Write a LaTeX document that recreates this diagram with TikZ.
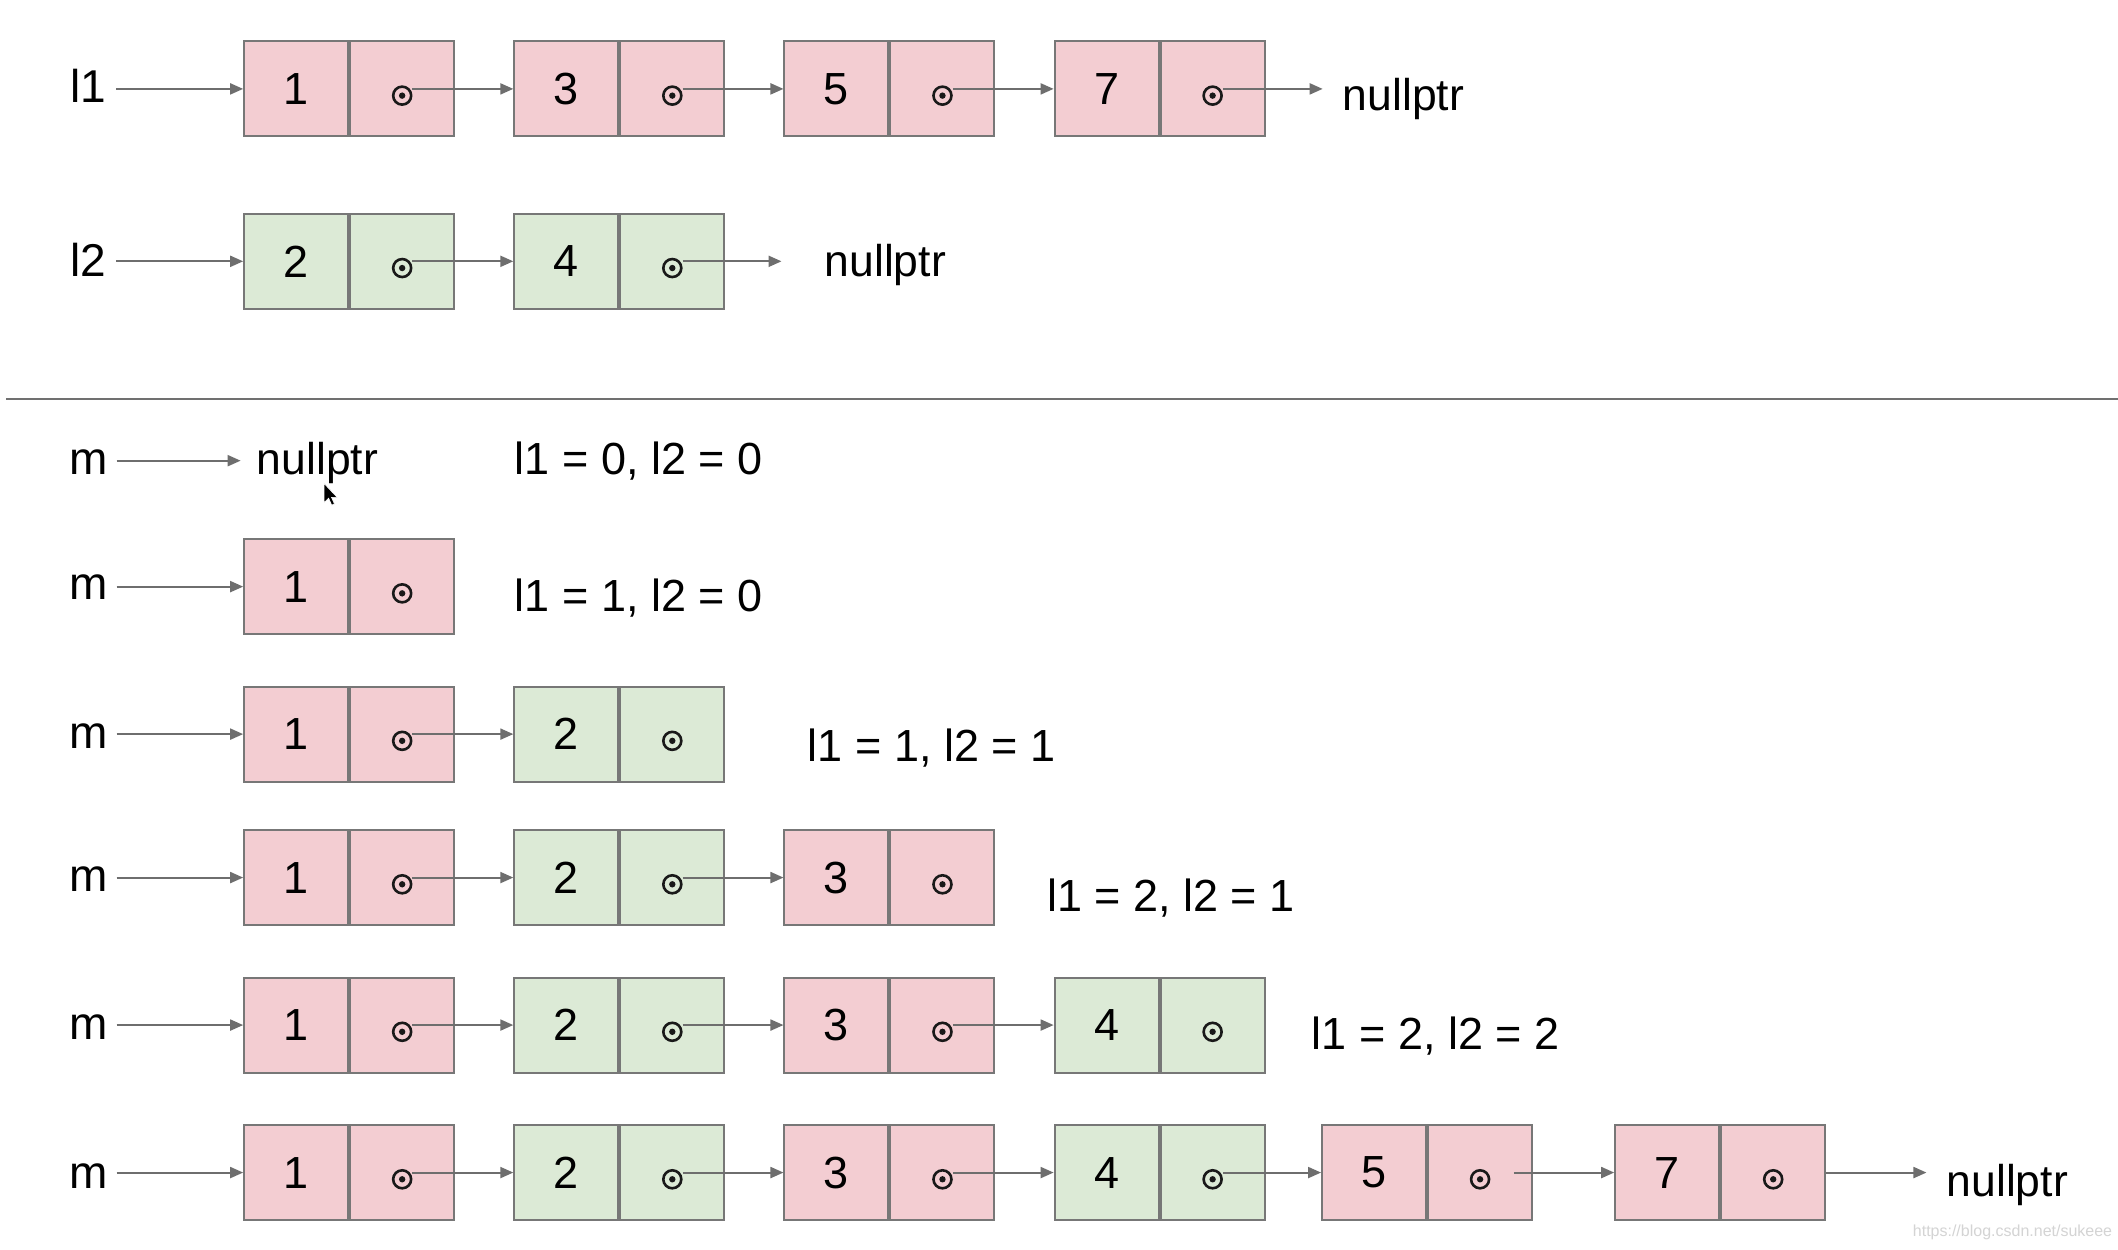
\documentclass[tikz,border=0pt]{standalone}
\usepackage{fontspec}
\setmainfont{Liberation Sans}
\usetikzlibrary{arrows.meta,calc}
\definecolor{pinkc}{HTML}{F3CDD2}
\definecolor{greenc}{HTML}{DCEAD6}
\definecolor{edgec}{HTML}{777777}
\definecolor{arrc}{HTML}{6E6E6E}
\definecolor{sepc}{HTML}{707070}
\definecolor{wmc}{HTML}{D4D4D4}
\tikzset{
  cellL/.style={draw=edgec, line width=2pt, minimum width=104pt, minimum height=95pt,
    inner sep=0pt, font=\fontsize{45pt}{54pt}\selectfont},
  cellR/.style={cellL, anchor=west},
  ptrdot/.style={circle, draw=black!90, line width=2.6pt, minimum size=18pt, inner sep=0pt,
    path picture={\fill[black!90] (path picture bounding box.center) circle (3.2pt);}},
  conn/.style={draw=arrc, line width=2pt, -{Triangle[length=13pt,width=11pt]}},
  lbl/.style={inner sep=0pt, anchor=base west, font=\fontsize{46pt}{55pt}\selectfont},
  info/.style={inner sep=0pt, anchor=base west, font=\fontsize{45pt}{54pt}\selectfont},
  nul/.style={inner sep=0pt, anchor=base west, font=\fontsize{44.5pt}{53pt}\selectfont},
  wmark/.style={inner sep=0pt, anchor=base west, text=wmc, font=\fontsize{16pt}{19pt}\selectfont},
}
% name, left x, centre y, colour, number
\newcommand\listcell[5]{%
  \node[cellL, fill=#4] (#1n) at (#2+39.25, #3) {#5};
  \node[cellR, fill=#4] (#1p) at (#1n.east) {};
  \node[ptrdot] (#1d) at ($(#1p.center)+(0,5)$) {};
}
\newcommand\linkto[2]{\draw[conn] (#1d.east |- #2n.west) -- (#2n.west);}
\begin{document}
\begin{tikzpicture}[x=1.35077pt, y=-1.34698pt]
\fill[white] (0,0) rectangle (1568,928);
\useasboundingbox (0,0) rectangle (1568,928);

% ---------- l1 ----------
\node[lbl] (L1) at (52,76.2) {l1};
\listcell{A1}{180}{66}{pinkc}{1}
\listcell{A2}{380}{66}{pinkc}{3}
\listcell{A3}{580}{66}{pinkc}{5}
\listcell{A4}{780}{66}{pinkc}{7}
\node[nul] (N1) at (994,82) {nullptr};
\draw[conn] ([xshift=10pt]L1.east |- A1n.west) -- (A1n.west);
\linkto{A1}{A2}
\linkto{A2}{A3}
\linkto{A3}{A4}
\draw[conn] (A4d.east |- A4n.west) -- ([xshift=-20pt]N1.west |- A4n.west);

% ---------- l2 ----------
\node[lbl] (L2) at (52,205) {l2};
\listcell{B1}{180}{194}{greenc}{2}
\listcell{B2}{380}{194}{greenc}{4}
\node[nul] (N2) at (610.4,205.6) {nullptr};
\draw[conn] ([xshift=10pt]L2.east |- B1n.west) -- (B1n.west);
\linkto{B1}{B2}
\draw[conn] (B2d.east |- B2n.west) -- ([xshift=-43pt]N2.west |- B2n.west);

% ---------- separator ----------
\coordinate (sepL) at (4.5,296);
\coordinate (sepR) at (1568,296);
\draw[draw=sepc, line width=2pt] (sepL) -- (sepR);

% ---------- m0 ----------
\node[lbl] (M0) at (51,352.6) {m};
\node[nul] (N3) at (190,352.6) {nullptr};
\coordinate (m0c) at (0,342);
\draw[conn] ([xshift=9pt]M0.east |- m0c) -- ([xshift=-16pt]N3.west |- m0c);
\node[info] (S0) at (381,352.6) {l1 = 0, l2 = 0};
% mouse cursor
\fill[black, draw=white, line width=0.6pt, shift={(240,359)}]
  (0,0) -- (0,14) -- (3.3,10.9) -- (5.6,16) -- (7.6,15.1) -- (5.4,10.2) -- (9.6,10.2) -- cycle;

% ---------- m1 ----------
\node[lbl] (M1) at (51,445.4) {m};
\listcell{C1}{180}{435.5}{pinkc}{1}
\draw[conn] ([xshift=9pt]M1.east |- C1n.west) -- (C1n.west);
\node[info] (S1) at (381,454) {l1 = 1, l2 = 0};

% ---------- m2 ----------
\node[lbl] (M2) at (51,556) {m};
\listcell{D1}{180}{545}{pinkc}{1}
\listcell{D2}{380}{545}{greenc}{2}
\draw[conn] ([xshift=9pt]M2.east |- D1n.west) -- (D1n.west);
\linkto{D1}{D2}
\node[info] (S2) at (598,565.6) {l1 = 1, l2 = 1};

% ---------- m3 ----------
\node[lbl] (M3) at (51,662) {m};
\listcell{E1}{180}{651.5}{pinkc}{1}
\listcell{E2}{380}{651.5}{greenc}{2}
\listcell{E3}{580}{651.5}{pinkc}{3}
\draw[conn] ([xshift=9pt]M3.east |- E1n.west) -- (E1n.west);
\linkto{E1}{E2}
\linkto{E2}{E3}
\node[info] (S3) at (775,677) {l1 = 2, l2 = 1};

% ---------- m4 ----------
\node[lbl] (M4) at (51,772) {m};
\listcell{F1}{180}{761}{pinkc}{1}
\listcell{F2}{380}{761}{greenc}{2}
\listcell{F3}{580}{761}{pinkc}{3}
\listcell{F4}{780}{761}{greenc}{4}
\draw[conn] ([xshift=9pt]M4.east |- F1n.west) -- (F1n.west);
\linkto{F1}{F2}
\linkto{F2}{F3}
\linkto{F3}{F4}
\node[info] (S4) at (971,779.5) {l1 = 2, l2 = 2};

% ---------- m5 ----------
\node[lbl] (M5) at (51,882) {m};
\listcell{G1}{180}{870.5}{pinkc}{1}
\listcell{G2}{380}{870.5}{greenc}{2}
\listcell{G3}{580}{870.5}{pinkc}{3}
\listcell{G4}{780}{870.5}{greenc}{4}
\listcell{G5}{978}{870.5}{pinkc}{5}
\listcell{G6}{1195}{870.5}{pinkc}{7}
\node[nul] (N6) at (1441,888) {nullptr};
\draw[conn] ([xshift=9pt]M5.east |- G1n.west) -- (G1n.west);
\linkto{G1}{G2}
\linkto{G2}{G3}
\linkto{G3}{G4}
\linkto{G4}{G5}
\coordinate (g5s) at ($(G5d.center)+(25,0)$);
\draw[conn] (g5s |- G5n.west) -- (G6n.west);
\draw[conn] (G6p.east) -- ([xshift=-20pt]N6.west |- G6p.east);

% watermark
\node[wmark] (WM) at (1416,918) {https://blog.csdn.net/sukeee};
\end{tikzpicture}
\end{document}
